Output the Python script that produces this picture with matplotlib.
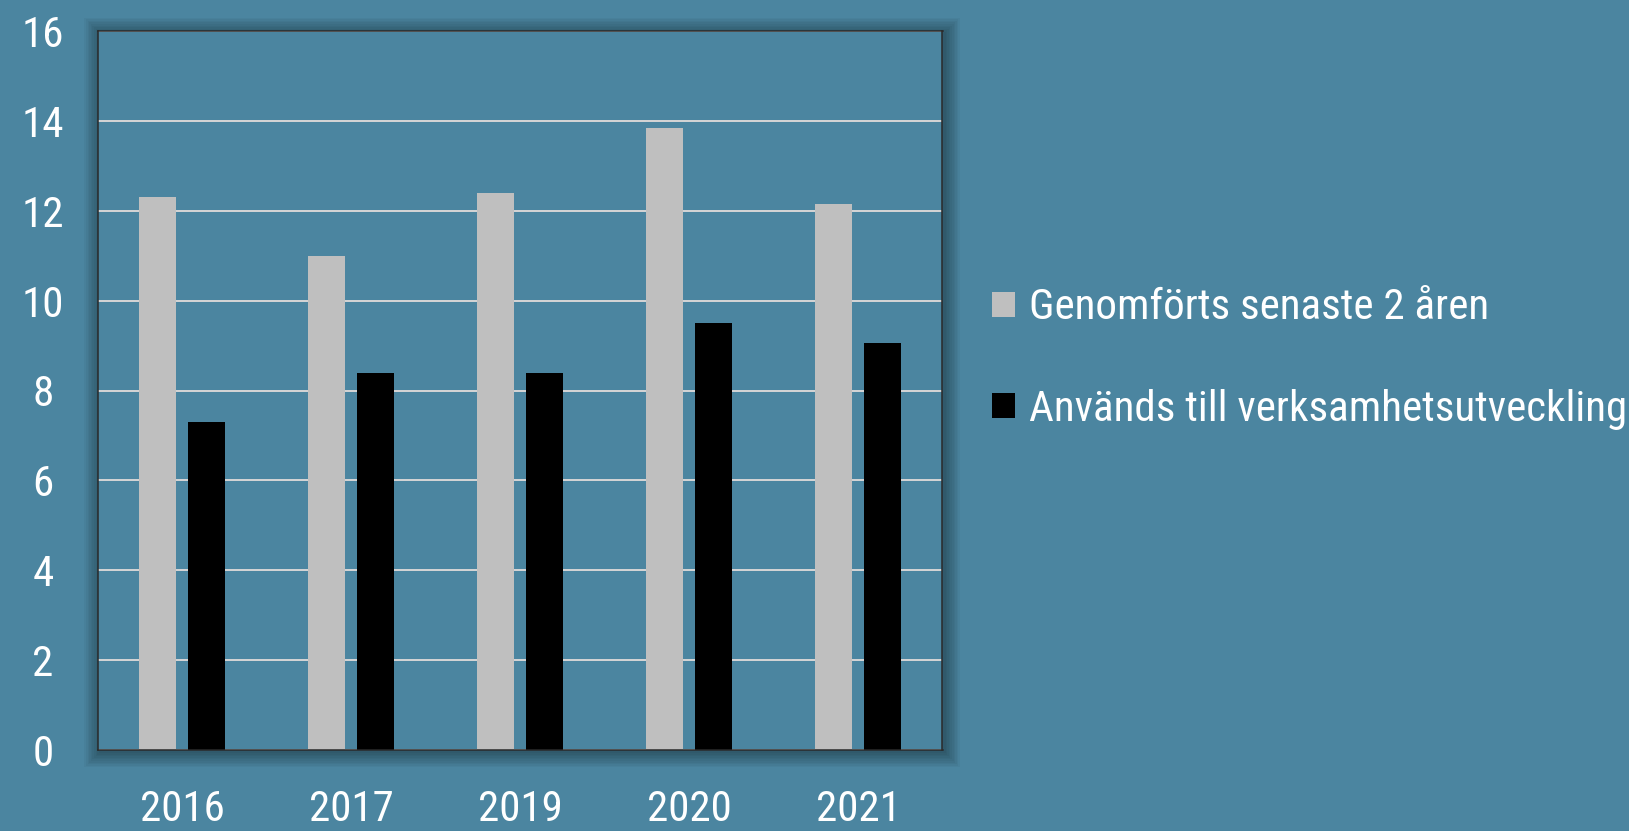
import numpy as np
import matplotlib
matplotlib.use("Agg")
import matplotlib.pyplot as plt
from matplotlib import font_manager as fm
from matplotlib.textpath import TextPath
from matplotlib.font_manager import FontProperties
from matplotlib.patches import Rectangle, Patch

# ---- data ----
years = ["2016", "2017", "2019", "2020", "2021"]
series_names = ["Genomförts senaste 2 åren", "Används till verksamhetsutveckling"]
genomforts = [12.3, 11.0, 12.4, 13.85, 12.15]
anvands = [7.3, 8.4, 8.4, 9.5, 9.05]
yticks = [0, 2, 4, 6, 8, 10, 12, 14, 16]

# ---- font choice (condensed if available) ----
names = {f.name for f in fm.fontManager.ttflist}
family = "DejaVu Sans"
stretch = "normal"
for cand in ["Liberation Sans Narrow", "DejaVu Sans Condensed", "Roboto Condensed",
             "Open Sans Condensed", "Noto Sans Condensed"]:
    if cand in names:
        family = cand
        break
else:
    cond = [f for f in fm.fontManager.ttflist
            if f.name == "DejaVu Sans" and f.stretch in ("condensed", "semi-condensed")
            and f.weight in (400, "normal", "book", "regular") and f.style == "normal"]
    if cond:
        stretch = "condensed"

prop100 = FontProperties(family=family, stretch=stretch, size=100)
w100 = TextPath((0, 0), series_names[1], prop=prop100).get_extents().width
fs_width = 594 * 72 / w100           # fit legend text width (px at dpi 100)
cap100 = TextPath((0, 0), "H", prop=prop100).get_extents().height
fs_height = 34 * 72 / cap100
FS = min(fs_width, fs_height)

plt.rcParams["font.family"] = [family, "DejaVu Sans"]
plt.rcParams["font.stretch"] = stretch

W, H, DPI = 1629, 831, 100
bg = "#4b85a0"
fig = plt.figure(figsize=(W / DPI, H / DPI), dpi=DPI, facecolor=bg)

L, R, T, B = 97.7, 942.5, 31, 750
ax = fig.add_axes([L / W, 1 - B / H, (R - L) / W, (B - T) / H])
ax.set_zorder(2)

# soft drop shadow behind axes
for i in range(10):
    g = 1 + i * 1.6
    fig.patches.append(Rectangle(((L - g + 2) / W, 1 - (B + g + 2) / H),
                                 (R - L + 2 * g) / W, (B - T + 2 * g) / H,
                                 transform=fig.transFigure, facecolor="black",
                                 edgecolor="none", alpha=0.035, zorder=0))

ax.set_facecolor(bg)
x = np.arange(len(years))
bw = 0.22
off = 0.145
ax.bar(x - off, genomforts, width=bw, color="#bfbfbf", zorder=3, label=series_names[0])
ax.bar(x + off, anvands, width=bw, color="#000000", zorder=3, label=series_names[1])

ax.set_xlim(-0.5, len(years) - 0.5)
ax.set_ylim(0, 16)
ax.set_yticks(yticks)
ax.set_yticklabels([str(v) for v in yticks])
ax.set_xticks(x)
ax.set_xticklabels(years)
ax.yaxis.grid(True, color="#d6d6d6", linewidth=1.4, zorder=1)
ax.set_axisbelow(True)

for s in ax.spines.values():
    s.set_color("#2a2a2a")
    s.set_linewidth(1.1)
    s.set_zorder(5)

ax.tick_params(axis="both", length=0, colors="white", labelsize=FS)
ax.tick_params(axis="y", pad=39.4)
ax.tick_params(axis="x", pad=28)
for lab in ax.get_yticklabels():
    lab.set_horizontalalignment("center")

handles = [Patch(facecolor="#bfbfbf", edgecolor="none"),
           Patch(facecolor="#000000", edgecolor="none")]
fs_px = FS * DPI / 72
leg = fig.legend(handles, series_names, loc="center left",
                 bbox_to_anchor=(992 / W, 1 - 358.5 / H), frameon=False,
                 fontsize=FS, handlelength=23 / fs_px, handleheight=23 / fs_px,
                 handletextpad=14 / fs_px, labelspacing=(103 - fs_px) / fs_px,
                 borderpad=0, borderaxespad=0)
for t in leg.get_texts():
    t.set_color("white")

fig.savefig("out.png", dpi=DPI, facecolor=bg)
